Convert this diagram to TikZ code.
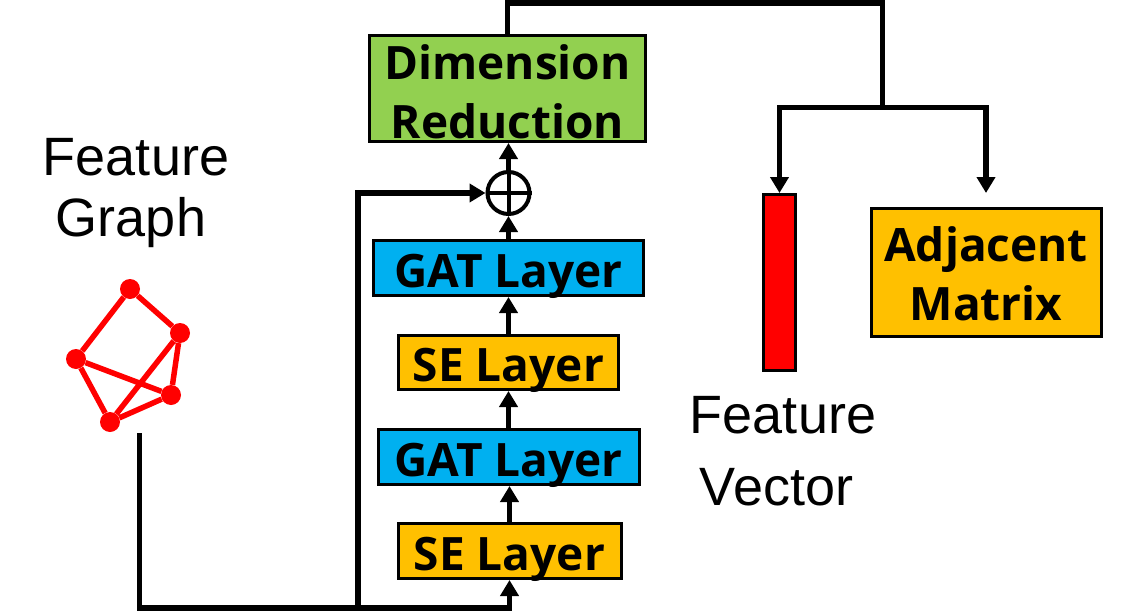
\documentclass[tikz,border=0pt]{standalone}
\usepackage{fontspec}
\setmainfont{Liberation Sans}
\newfontfamily\boxfont{Open Sans}
\usetikzlibrary{arrows.meta}
\definecolor{drgreen}{HTML}{92D050}
\definecolor{gatblue}{HTML}{00B0F0}
\definecolor{seorange}{HTML}{FFC000}
\begin{document}
\begin{tikzpicture}[x=1pt,y=-1pt,
  box/.style={draw=black,line width=3pt,inner sep=0pt,align=center,
    font=\boxfont\bfseries\fontsize{46}{59}\selectfont},
  onebox/.style={box,text height=38pt,text depth=0pt},
  lbl/.style={font=\fontsize{54}{60}\selectfont,inner sep=0pt,anchor=base},
  conn/.style={line width=5.5pt,line join=miter},
  arr/.style={conn,-{Triangle[width=18pt,length=16pt]}},
  gnode/.style={circle,fill=red,minimum size=20pt,inner sep=0pt},
  gedge/.style={red,line width=5.5pt}]
\useasboundingbox (0,0) rectangle (1130,613);

% main column
\node[box,fill=drgreen,minimum width=276pt,minimum height=106pt] (dr) at (507.5,88.5) {\rule{0pt}{42pt}Dimension\\Reduction};
\node[circle,draw,line width=4pt,minimum size=42pt,inner sep=0pt] (plus) at (508.5,193) {};
\draw[line width=4pt] (plus.north) -- (plus.south) (plus.west) -- (plus.east);
\node[onebox,fill=gatblue,minimum width=270pt,minimum height=55pt] (gat2) at (508.5,268) {GAT Layer};
\node[onebox,fill=seorange,minimum width=220pt,minimum height=54pt] (se2) at (508.5,362.5) {SE Layer};
\node[onebox,fill=gatblue,minimum width=261pt,minimum height=55pt] (gat1) at (508.5,457) {GAT Layer};
\node[onebox,fill=seorange,minimum width=223pt,minimum height=55pt] (se1) at (509.5,551) {SE Layer};

% outputs
\node[box,fill=seorange,minimum width=230pt,minimum height=128pt] (adj) at (986,272.5) {\rule{0pt}{38pt}Adjacent\\Matrix};
\node[draw=black,line width=3pt,fill=red,minimum width=32pt,minimum height=176pt,inner sep=0pt] (bar) at (779.5,282.5) {};

% labels
\node[lbl] (fg1) at (136,175) {Feature};
\node[lbl] (fg2) at (131,236) {Graph};
\node[lbl] (fv1) at (783,433) {Feature};
\node[lbl] (fv2) at (776.5,505) {Vector};

% feature graph
\node[gnode] (n1) at (130,289) {};
\node[gnode] (n2) at (180,333) {};
\node[gnode] (n3) at (76,359) {};
\node[gnode] (n4) at (171,395) {};
\node[gnode] (n5) at (110,422) {};
\draw[gedge] (n1) -- (n2) (n1) -- (n3) (n3) -- (n4) (n3) -- (n5) (n2) -- (n5) (n2) -- (n4) (n4) -- (n5);

% connectors
\coordinate (gsrc) at (139.5,433);
\coordinate (bjoin) at (509.5,608);
\coordinate (skip) at (358,608);
\coordinate (top) at (882.5,3);
\coordinate (split) at (882.5,107.5);
\draw[arr] (gsrc) |- (bjoin) -- (se1.south);
\draw[arr] (skip) |- (plus.west);
\draw[arr] (se1.north) -- (se1.north |- gat1.south);
\draw[arr] (gat1.north) -- (gat1.north |- se2.south);
\draw[arr] (se2.north) -- (se2.north |- gat2.south);
\draw[arr] (gat2.north) -- (plus.south);
\draw[arr] (plus.north) -- (plus.north |- dr.south);
\draw[conn] (dr.north) |- (top) -- (split);
\draw[arr] (split) -| (bar.north);
\draw[arr,shorten >=14pt] (split) -| (adj.north);
\end{tikzpicture}
\end{document}
